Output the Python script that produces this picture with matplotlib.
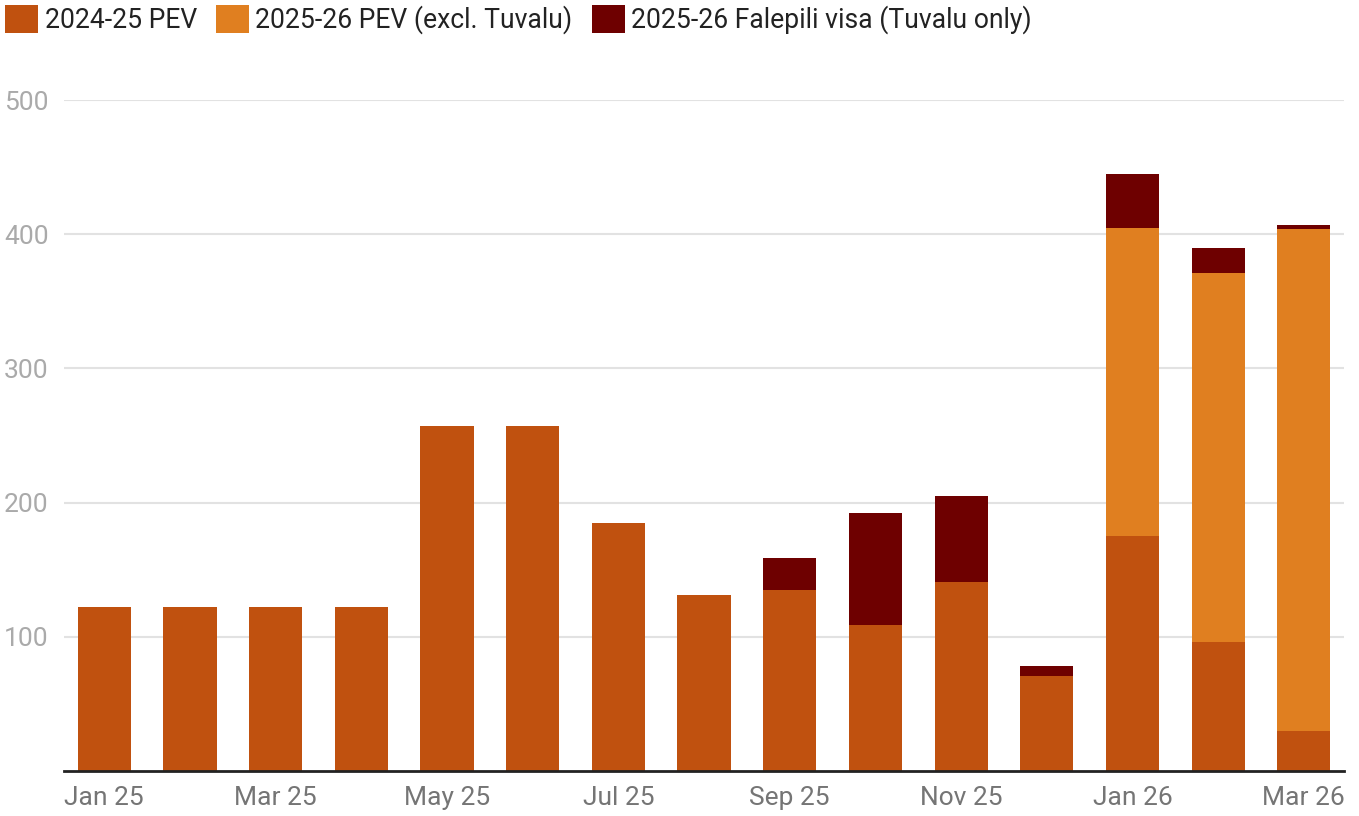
import matplotlib
matplotlib.use("Agg")
import matplotlib.pyplot as plt
import numpy as np

plt.rcParams['font.family'] = ['Roboto', 'DejaVu Sans']

months = ["Jan 25", "Feb 25", "Mar 25", "Apr 25", "May 25", "Jun 25", "Jul 25", "Aug 25",
          "Sep 25", "Oct 25", "Nov 25", "Dec 25", "Jan 26", "Feb 26", "Mar 26"]
pev_2425 = [122, 122, 122, 122, 257, 257, 185, 131, 135, 109, 141, 71, 175, 96, 30]
pev_2526 = [0, 0, 0, 0, 0, 0, 0, 0, 0, 0, 0, 0, 230, 275, 374]
falepili = [0, 0, 0, 0, 0, 0, 0, 0, 24, 83, 64, 7, 40, 19, 3]

c1 = "#c0510f"
c2 = "#e07f20"
c3 = "#6e0000"

fig = plt.figure(figsize=(13.59, 8.16), dpi=100)
ax = fig.add_axes([0.0471, 0.0551, 0.9419, 0.8223])

x = np.arange(len(months))
w = 0.62
a = np.array(pev_2425)
b = np.array(pev_2526)
c = np.array(falepili)
ax.bar(x, a, w, color=c1, label="2024-25 PEV", zorder=3)
ax.bar(x, b, w, bottom=a, color=c2, label="2025-26 PEV (excl. Tuvalu)", zorder=3)
ax.bar(x, c, w, bottom=a + b, color=c3, label="2025-26 Falepili visa (Tuvalu only)", zorder=3)

ax.set_xlim(-0.47, len(months) - 1 + 0.47)
ax.set_ylim(0, 500)
ax.set_yticks([100, 200, 300, 400, 500])
ax.grid(axis='y', color='#e2e2e2', linewidth=1.5, zorder=0)
ax.set_xticks(x[::2])
ax.set_xticklabels(months[::2])

for s in ['top', 'right', 'left']:
    ax.spines[s].set_visible(False)
ax.spines['bottom'].set_color('#222222')
ax.spines['bottom'].set_linewidth(2)
ax.spines['bottom'].set_zorder(4)
ax.tick_params(axis='both', length=0, labelsize=19)
ax.tick_params(axis='x', colors='#757575', pad=11)
ax.tick_params(axis='y', colors='#aaaaaa', pad=11)

fig.legend(loc='upper left', bbox_to_anchor=(5 / 1359, 1 - 5 / 816), ncol=3, frameon=False,
           fontsize=19.1, handlelength=1.24, handleheight=1.22, handletextpad=0.25,
           columnspacing=0.72, borderaxespad=0, borderpad=0, labelcolor='#222222')

fig.savefig("out.png", dpi=100)
